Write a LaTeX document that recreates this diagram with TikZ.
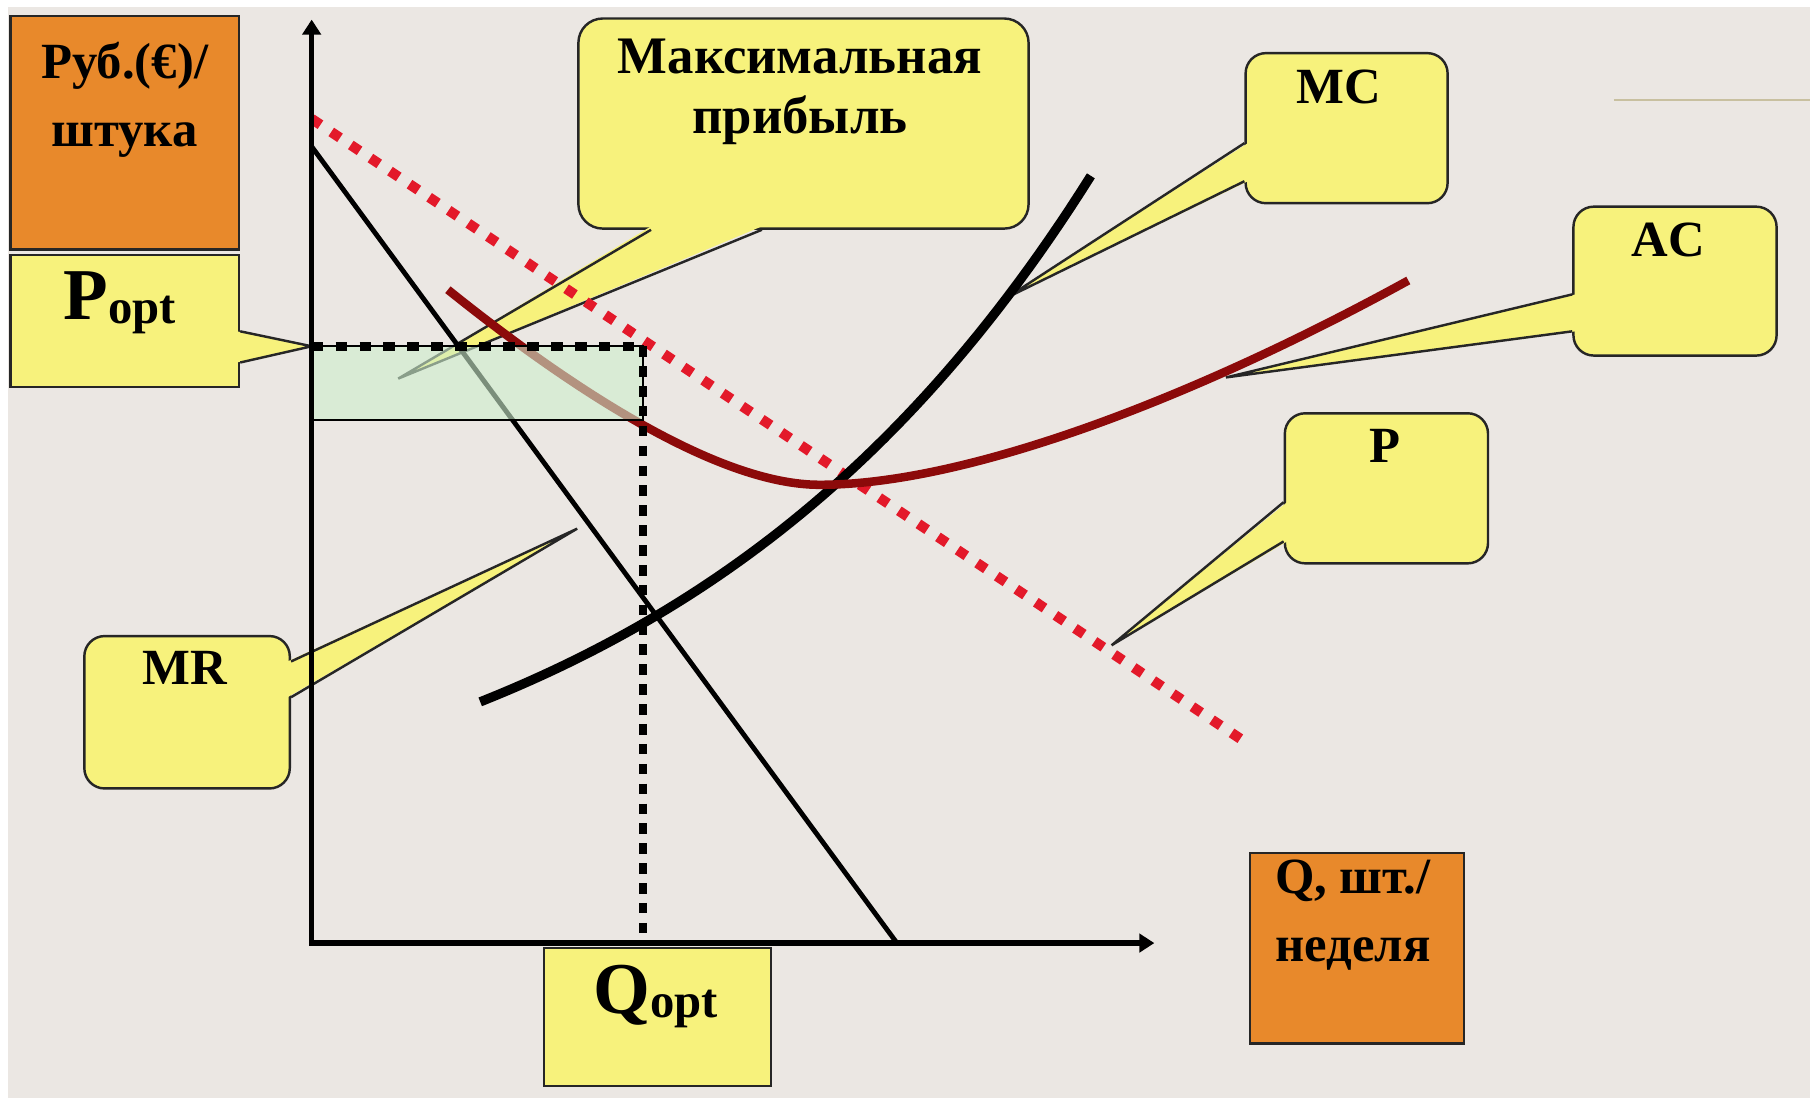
\documentclass[tikz,border=0pt]{standalone}
\usepackage{fontspec}
\setmainfont{Liberation Serif}
\usetikzlibrary{arrows.meta, calc}
\definecolor{PaperBg}{HTML}{EBE7E3}
\definecolor{NoteYellow}{HTML}{F7F27C}
\definecolor{AxisOrange}{HTML}{E8892B}
\definecolor{ProfitGreen}{HTML}{CDEECD}
\definecolor{CostRed}{HTML}{8C0A0A}
\definecolor{PriceRed}{HTML}{E3192A}
\definecolor{TanLine}{HTML}{C8C0A0}
\tikzset{
  callbox/.style={draw=black!85, line width=0.6pt, fill=NoteYellow, rounded corners=5pt, inner sep=0pt, anchor=north west},
  labelbox/.style={draw=black!85, line width=0.6pt, fill=NoteYellow, inner sep=0pt, anchor=north west},
  axisbox/.style={draw=black!85, line width=0.6pt, fill=AxisOrange, inner sep=0pt, anchor=north west},
  callfill/.style={fill=NoteYellow},
  callline/.style={draw=black!85, line width=0.6pt},
  lbl/.style={font=\fontsize{12.5}{15}\selectfont\bfseries, anchor=base, inner sep=0pt},
  optdots/.style={line width=2.1pt, dash pattern=on 2.85pt off 3.05pt},
}

\begin{document}
\begin{tikzpicture}
  \useasboundingbox (0,0) rectangle (15.68,9.51);
  \fill[white] (0,0) rectangle (15.68,9.51);
  \fill[PaperBg] (0.07,0) rectangle (15.68,9.45);
  \draw[TanLine, line width=0.5pt] (13.98,8.64) -- (15.68,8.64);

  % axis labels
  \node[axisbox, minimum width=1.98cm, minimum height=2.02cm] (rubbox) at (0.08,9.38) {};
  \node[lbl, align=center, font=\fontsize{12.5}{16.8}\selectfont\bfseries] (rubtext) at (1.08,8.24) {Руб.(€)/\\штука};
  \node[axisbox, minimum width=1.85cm, minimum height=1.65cm] (qbox) at (10.82,2.13) {};
  \node[lbl, align=center, font=\fontsize{12.5}{16.8}\selectfont\bfseries] (qtext) at (11.72,1.18) {Q, шт./\\неделя};

  % callouts
  \node[labelbox, minimum width=1.98cm, minimum height=1.14cm] (poptbox) at (0.08,7.31) {};
  \coordinate (popttip) at (2.70,6.51);
  \fill[callfill] ($(poptbox.east)+(-0.03,-0.09)$) -- (popttip) -- ($(poptbox.east)+(-0.03,-0.36)$) -- cycle;
  \draw[callline] ($(poptbox.east)+(0,-0.09)$) -- (popttip) -- ($(poptbox.east)+(0,-0.36)$);
  \node[lbl] (popttext) at (1.04,6.74) {{\fontsize{18}{20}\selectfont P}\raisebox{-1pt}{\fontsize{12}{14}\selectfont opt}};

  \node[labelbox, minimum width=1.97cm, minimum height=1.20cm] (qoptbox) at (4.70,1.31) {};
  \node[lbl] (qopttext) at (5.68,0.73) {{\fontsize{18}{20}\selectfont Q}\raisebox{-1pt}{\fontsize{12}{14}\selectfont opt}};

  \node[callbox, rounded corners=6pt, minimum width=3.90cm, minimum height=1.82cm] (maxbox) at (5.00,9.36) {};
  \coordinate (maxtip) at (3.45,6.23);
  \fill[callfill] ($(maxbox.south west)+(0.64,0.03)$) -- (maxtip) -- ($(maxbox.south west)+(1.60,0.03)$) -- cycle;
  \draw[callline] ($(maxbox.south west)+(0.64,0)$) -- (maxtip) -- ($(maxbox.south west)+(1.60,0)$);
  \node[lbl, align=center, font=\fontsize{13}{14.8}\selectfont\bfseries] (maxtext) at (6.93,8.35) {Максимальная\\прибыль};

  \node[callbox, minimum width=1.75cm, minimum height=1.30cm] (mcbox) at (10.78,9.06) {};
  \coordinate (mctip) at (8.72,6.93);
  \fill[callfill] ($(mcbox.west)+(0.03,-0.13)$) -- (mctip) -- ($(mcbox.west)+(0.03,-0.46)$) -- cycle;
  \draw[callline] ($(mcbox.west)+(0,-0.13)$) -- (mctip) -- ($(mcbox.west)+(0,-0.46)$);
  \node[lbl] (mctext) at (11.60,8.61) {MC};

  \node[callbox, minimum width=1.76cm, minimum height=1.29cm] (acbox) at (13.62,7.73) {};
  \coordinate (actip) at (10.62,6.24);
  \fill[callfill] ($(acbox.west)+(0.03,-0.115)$) -- (actip) -- ($(acbox.west)+(0.03,-0.435)$) -- cycle;
  \draw[callline] ($(acbox.west)+(0,-0.115)$) -- (actip) -- ($(acbox.west)+(0,-0.435)$);
  \node[lbl] (actext) at (14.45,7.29) {AC};

  \node[callbox, minimum width=1.76cm, minimum height=1.30cm] (pbox) at (11.12,5.94) {};
  \coordinate (ptip) at (9.63,3.92);
  \fill[callfill] ($(pbox.west)+(0.03,-0.12)$) -- (ptip) -- ($(pbox.west)+(0.03,-0.46)$) -- cycle;
  \draw[callline] ($(pbox.west)+(0,-0.12)$) -- (ptip) -- ($(pbox.west)+(0,-0.46)$);
  \node[lbl] (ptext) at (12.00,5.50) {P};

  \node[callbox, minimum width=1.78cm, minimum height=1.32cm] (mrbox) at (0.72,4.01) {};
  \coordinate (mrtip) at (5.00,4.93);
  \fill[callfill] ($(mrbox.east)+(-0.03,0.44)$) -- (mrtip) -- ($(mrbox.east)+(-0.03,0.13)$) -- cycle;
  \draw[callline] ($(mrbox.east)+(0,0.44)$) -- (mrtip) -- ($(mrbox.east)+(0,0.13)$);
  \node[lbl] (mrtext) at (1.60,3.58) {MR};

  % curves
  \draw[line width=1.2pt] (2.70,8.24) -- (7.77,1.34);
  \draw[PriceRed, line width=2.5pt, dash pattern=on 2.6pt off 3.2pt] (2.70,8.48) -- (10.82,3.06);
  \draw[line width=2.3pt] plot[domain=4.16:9.45, samples=60] (\x, {1.91+0.511*exp(0.262*\x)});
  \draw[CostRed, line width=2.1pt] (3.88,7.00) .. controls (4.90,6.18) and (6.20,5.31) .. (7.10,5.31) .. controls (8.40,5.31) and (10.40,6.09) .. (12.20,7.08);

  % profit area
  \filldraw[fill=ProfitGreen, fill opacity=0.6, draw=black, line width=0.6pt] (2.70,6.51) rectangle (5.57,5.87);

  \draw[line width=1.3pt, {Triangle[length=3.7pt,width=4.5pt]}-{Triangle[length=3.7pt,width=4.5pt]}] (2.70,9.34) -- (2.70,1.34) -- (10.00,1.34);

  \coordinate (poptpt) at (2.70,6.51);
  \coordinate (corner) at (5.57,6.51);
  \coordinate (qoptpt) at (5.57,1.34);
  \draw[optdots] (poptpt) -- (corner);
  \draw[optdots, dash pattern=on 2.6pt off 2.3pt] (corner) -- (qoptpt);
\end{tikzpicture}
\end{document}
